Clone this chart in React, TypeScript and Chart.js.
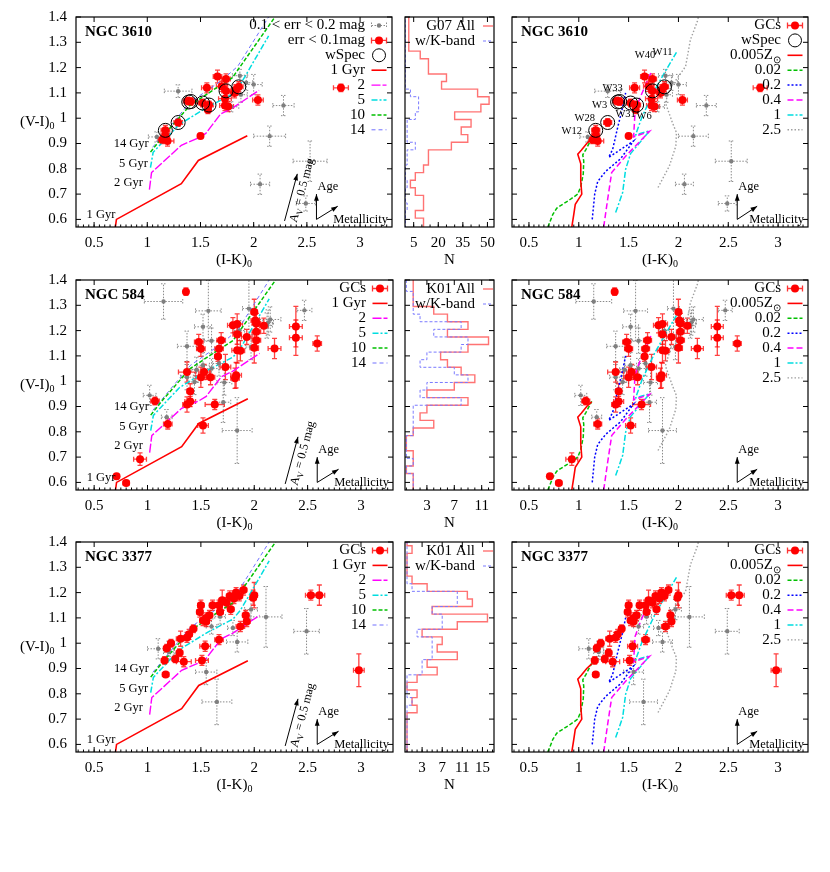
import React, { useEffect, useRef } from "react";
import { Chart, registerables } from "chart.js";

Chart.register(...registerables);

const SERIF = '"Liberation Serif", "Times New Roman", Times, serif';

// ---------------- data ----------------
type P4 = [number, number, number, number]; // x, y, xerr, yerr
type P2 = [number, number];

const colourTicks = [0.5, 1, 1.5, 2, 2.5, 3];
const viTicks = [0.6, 0.7, 0.8, 0.9, 1, 1.1, 1.2, 1.3, 1.4];
const nTicks3610 = [5, 20, 35, 50];
const nTicks584 = [3, 7, 11];
const nTicks3377 = [3, 7, 11, 15];

// histogram bins in (V-I)0: lower edge of first bin and width
const binLow = 0.545;
const binW = 0.03;
const g07All = [11, 11, 6, 11, 11, 6, 3, 6, 11, 14, 14, 28, 38, 34, 40, 30, 46, 51, 44, 22, 25, 14, 14, 9, 2, 2, 2, 2, 2];
const g07K = [0, 0, 0, 1, 0, 0, 1, 0, 0, 1, 1, 6, 1, 1, 1, 6, 8, 8, 3, 0, 0, 0, 0, 0, 0, 0, 0, 0, 0];
const k584All = [1, 1, 1, 0, 1, 1, 0, 0, 1, 4, 2, 3, 9, 3, 7, 10, 8, 6, 5, 9, 12, 6, 9, 6, 4, 1, 1, 1, 1];
const k584K = [1, 1, 1, 0, 1, 0, 0, 0, 1, 1, 1, 1, 8, 2, 3, 9, 7, 2, 3, 8, 9, 4, 8, 2, 1, 1, 1, 0, 0];
const k3377All = [0, 0, 0, 0, 0, 0, 2, 1, 2, 0, 2, 6, 4, 10, 6, 7, 3, 10, 16, 5, 13, 12, 4, 1, 0, 0, 0, 1, 0];
const k3377K = [0, 0, 0, 0, 0, 0, 0, 1, 0, 0, 0, 3, 3, 5, 5, 5, 2, 7, 7, 5, 10, 10, 1, 0, 0, 0, 0, 0, 0];

// NGC 3610
const n3610Red: P4[] = [
  [1.66, 1.165, 0.04, 0.025], [1.74, 1.155, 0.04, 0.02], [1.56, 1.12, 0.05, 0.02],
  [1.70, 1.126, 0.05, 0.02], [1.74, 1.108, 0.04, 0.02], [1.86, 1.124, 0.04, 0.02],
  [1.82, 1.100, 0.04, 0.02], [1.83, 1.112, 0.04, 0.02], [1.41, 1.066, 0.05, 0.015],
  [1.38, 1.068, 0.04, 0.015], [1.52, 1.060, 0.04, 0.015], [1.58, 1.052, 0.04, 0.015],
  [1.57, 1.033, 0.03, 0.015], [1.73, 1.077, 0.06, 0.025], [1.73, 1.050, 0.05, 0.02],
  [1.76, 1.046, 0.05, 0.02], [2.04, 1.072, 0.05, 0.02], [1.29, 0.983, 0.04, 0.015],
  [1.17, 0.952, 0.04, 0.02], [1.17, 0.932, 0.04, 0.015], [1.14, 0.915, 0.04, 0.015],
  [1.19, 0.910, 0.06, 0.02], [1.50, 0.930, 0.02, 0.01], [2.82, 1.120, 0.07, 0.015],
];
const n3610Faint: P4[] = [
  [1.29, 1.107, 0.13, 0.025], [1.87, 1.168, 0.07, 0.025], [1.93, 1.140, 0.06, 0.03],
  [2.00, 1.133, 0.08, 0.04], [1.88, 1.093, 0.06, 0.03], [1.79, 1.045, 0.07, 0.02],
  [2.28, 1.050, 0.10, 0.04], [2.15, 0.929, 0.15, 0.04], [2.53, 0.830, 0.16, 0.08],
  [2.06, 0.739, 0.09, 0.04], [2.49, 0.663, 0.09, 0.03], [1.09, 0.926, 0.08, 0.02],
];
const n3610Spec: P2[] = [
  [1.86, 1.124], [1.74, 1.108], [1.41, 1.066], [1.39, 1.064],
  [1.52, 1.060], [1.58, 1.052], [1.29, 0.983], [1.17, 0.952],
];
const n3610SpecNames = ["W11", "W40", "W33", "W3", "W31", "W6", "W28", "W12"];
const n3610NamePos: P2[] = [
  [1.84, 1.262], [1.665, 1.25], [1.34, 1.119], [1.21, 1.05],
  [1.47, 1.014], [1.655, 1.007], [1.06, 1.0], [0.93, 0.948],
];

// NGC 584
const n584Red: P4[] = [
  [1.36, 1.354, 0.02, 0.015], [0.71, 0.624, 0.02, 0.01], [0.80, 0.598, 0.03, 0.01],
  [0.93, 0.692, 0.06, 0.025], [1.19, 0.831, 0.04, 0.02], [1.52, 0.825, 0.05, 0.03],
  [1.07, 0.922, 0.04, 0.015], [1.37, 0.908, 0.04, 0.03], [1.40, 0.920, 0.05, 0.02],
  [1.40, 0.960, 0.03, 0.03], [1.63, 0.908, 0.09, 0.02], [1.37, 1.036, 0.08, 0.04],
  [1.50, 1.016, 0.05, 0.04], [1.53, 1.036, 0.05, 0.03], [1.59, 1.016, 0.04, 0.03],
  [1.73, 1.056, 0.05, 0.05], [1.66, 1.098, 0.03, 0.02], [1.48, 1.155, 0.04, 0.03],
  [1.50, 1.128, 0.04, 0.03], [1.67, 1.128, 0.04, 0.03], [1.69, 1.162, 0.04, 0.03],
  [1.80, 1.221, 0.05, 0.03], [1.84, 1.226, 0.05, 0.04], [1.84, 1.186, 0.04, 0.04],
  [1.84, 1.122, 0.05, 0.05], [1.83, 1.024, 0.05, 0.05], [1.82, 1.012, 0.04, 0.04],
  [1.87, 1.120, 0.04, 0.04], [1.93, 1.175, 0.05, 0.03], [2.00, 1.274, 0.03, 0.05],
  [2.01, 1.240, 0.04, 0.04], [2.02, 1.228, 0.04, 0.04], [2.02, 1.195, 0.04, 0.04],
  [2.02, 1.162, 0.04, 0.04], [2.00, 1.132, 0.04, 0.06], [2.09, 1.219, 0.04, 0.03],
  [2.19, 1.129, 0.06, 0.04], [2.39, 1.216, 0.06, 0.08], [2.39, 1.172, 0.06, 0.07],
  [2.59, 1.149, 0.04, 0.03],
];
const n584Faint: P4[] = [
  [1.15, 1.315, 0.18, 0.07], [1.57, 1.278, 0.12, 0.12], [1.52, 1.215, 0.08, 0.05],
  [1.37, 1.138, 0.09, 0.06], [1.60, 1.160, 0.07, 0.05], [1.95, 1.287, 0.06, 0.12],
  [1.86, 1.200, 0.05, 0.04], [2.15, 1.244, 0.10, 0.05], [2.13, 1.232, 0.05, 0.05],
  [2.47, 1.280, 0.07, 0.04], [1.02, 0.944, 0.06, 0.04], [1.18, 0.858, 0.05, 0.03],
  [1.84, 0.805, 0.14, 0.13], [1.72, 0.995, 0.07, 0.05], [1.71, 0.917, 0.07, 0.08],
  [1.60, 1.050, 0.07, 0.04], [1.44, 0.997, 0.06, 0.05], [1.46, 1.045, 0.05, 0.05],
  [1.52, 1.063, 0.06, 0.05], [1.37, 1.016, 0.06, 0.05], [1.67, 1.070, 0.06, 0.05],
  [1.97, 1.135, 0.05, 0.05], [2.12, 1.220, 0.05, 0.05],
];

// NGC 3377
const n3377Red: P4[] = [
  [2.53, 1.190, 0.05, 0.02], [2.61, 1.190, 0.05, 0.04], [2.98, 0.893, 0.05, 0.065],
  [1.17, 0.876, 0.03, 0.01], [1.34, 0.927, 0.07, 0.02], [1.51, 0.932, 0.06, 0.02],
  [1.26, 0.938, 0.03, 0.015], [1.16, 0.932, 0.03, 0.015], [1.30, 0.962, 0.03, 0.015],
  [1.18, 0.980, 0.03, 0.015], [1.22, 1.000, 0.03, 0.015], [1.31, 1.018, 0.04, 0.03],
  [1.37, 1.023, 0.03, 0.02], [1.39, 1.035, 0.03, 0.02], [1.43, 1.057, 0.03, 0.015],
  [1.54, 0.988, 0.05, 0.02], [1.67, 1.014, 0.04, 0.02], [1.87, 1.066, 0.04, 0.02],
  [1.93, 1.086, 0.03, 0.02], [1.92, 1.110, 0.03, 0.02], [1.49, 1.123, 0.03, 0.02],
  [1.50, 1.150, 0.03, 0.02], [1.61, 1.150, 0.03, 0.02], [1.55, 1.086, 0.03, 0.02],
  [1.55, 1.100, 0.03, 0.02], [1.58, 1.110, 0.03, 0.02], [1.68, 1.123, 0.03, 0.02],
  [1.67, 1.150, 0.03, 0.02], [1.70, 1.170, 0.03, 0.04], [1.74, 1.160, 0.03, 0.02],
  [1.78, 1.134, 0.03, 0.02], [1.81, 1.177, 0.03, 0.02], [1.83, 1.200, 0.03, 0.02],
  [1.86, 1.187, 0.03, 0.02], [1.90, 1.210, 0.03, 0.02], [2.00, 1.190, 0.03, 0.05],
  [1.99, 1.180, 0.03, 0.03], [1.77, 1.187, 0.03, 0.02], [1.52, 1.090, 0.03, 0.02],
];
const n3377Faint: P4[] = [
  [2.11, 1.104, 0.15, 0.12], [2.49, 1.047, 0.12, 0.09], [1.65, 0.768, 0.14, 0.09],
  [1.55, 0.886, 0.10, 0.05], [1.84, 1.005, 0.10, 0.04], [1.97, 1.133, 0.06, 0.04],
  [1.80, 1.060, 0.05, 0.03], [1.68, 1.105, 0.05, 0.03], [1.60, 1.066, 0.05, 0.03],
  [1.10, 0.978, 0.10, 0.04], [1.20, 0.965, 0.05, 0.03], [1.20, 0.978, 0.05, 0.03],
];

// SSP isochrones (ages) for the left panels
const age1Gyr: P2[] = [[0.70, 0.57], [0.71, 0.60], [1.32, 0.741], [1.48, 0.833], [1.94, 0.931]];
const age2Gyr: P2[] = [[1.02, 0.718], [1.04, 0.785], [1.32, 0.893], [1.48, 0.922], [1.55, 0.94], [1.69, 1.017], [1.80, 1.04], [2.05, 1.11]];
const age5Gyr: P2[] = [[1.03, 0.805], [1.055, 0.865], [1.30, 0.975], [1.57, 1.045], [1.80, 1.095], [1.87, 1.13], [2.14, 1.325]];
const age10Gyr: P2[] = [[1.03, 0.866], [1.15, 0.93], [1.40, 1.05], [1.65, 1.12], [1.80, 1.16], [2.0, 1.28], [2.2, 1.40]];
const age14Gyr: P2[] = [[1.05, 0.885], [1.40, 1.062], [1.70, 1.15], [1.85, 1.205], [2.14, 1.40]];

// metallicity tracks for the right panels
const zTrack005: P2[] = [[0.93, 0.57], [0.95, 0.62], [0.965, 0.66], [1.03, 0.70], [1.02, 0.75], [1.02, 0.82], [0.99, 0.858], [1.025, 0.873], [1.08, 0.90], [1.13, 0.918]];
const zTrack002: P2[] = [[0.69, 0.57], [0.74, 0.62], [0.78, 0.645], [0.90, 0.675], [0.99, 0.70], [1.02, 0.73], [1.045, 0.78], [1.05, 0.83], [1.04, 0.855], [1.07, 0.875], [1.13, 0.92]];
const zTrack02: P2[] = [[1.135, 0.60], [1.16, 0.70], [1.19, 0.75], [1.27, 0.79], [1.42, 0.84], [1.55, 0.91], [1.30, 0.845], [1.34, 0.877], [1.39, 0.963], [1.44, 1.043], [1.47, 1.10]];
const zTrack04: P2[] = [[1.25, 0.57], [1.29, 0.68], [1.33, 0.785], [1.47, 0.85], [1.71, 0.948], [1.55, 0.926], [1.565, 1.027], [1.62, 1.086], [1.73, 1.185]];
const zTrack1: P2[] = [[1.37, 0.627], [1.44, 0.706], [1.47, 0.798], [1.52, 0.86], [1.71, 0.95], [1.57, 0.934], [1.635, 1.006], [1.76, 1.11], [1.89, 1.2], [1.98, 1.26]];
const zTrack25: P2[] = [[1.795, 0.726], [1.909, 0.811], [1.974, 0.89], [1.98, 0.943], [1.94, 0.982], [1.869, 1.061], [1.909, 1.113], [2.072, 1.205], [2.12, 1.31], [2.19, 1.383], [2.2, 1.40]];

// ---------------- styles / layout ----------------
const RED = "#ff0000";
const AGE_LINES = [
  { pts: age1Gyr, label: "1 Gyr", color: RED, dash: [], width: 1.6 },
  { pts: age2Gyr, label: "2", color: "#ff00ff", dash: [9, 2], width: 1.4 },
  { pts: age5Gyr, label: "5", color: "#00dde0", dash: [6, 2, 2, 2], width: 1.5 },
  { pts: age10Gyr, label: "10", color: "#00c000", dash: [4, 2], width: 1.5 },
  { pts: age14Gyr, label: "14", color: "#7070ff", dash: [4, 3], width: 1 },
];
const Z_LINES = [
  { pts: zTrack005, label: "0.005Z", sub: "\u2299", color: RED, dash: [], width: 1.6 },
  { pts: zTrack002, label: "0.02", color: "#00c000", dash: [4, 2], width: 1.5 },
  { pts: zTrack02, label: "0.2", color: "#0000ff", dash: [2, 2], width: 1.5 },
  { pts: zTrack04, label: "0.4", color: "#ff00ff", dash: [6, 3], width: 1.5 },
  { pts: zTrack1, label: "1", color: "#00dde0", dash: [6, 2, 2, 2], width: 1.5 },
  { pts: zTrack25, label: "2.5", color: "#a0a0a0", dash: [1.5, 2], width: 1.4 },
];

const ROW_TOP = [17, 280, 542];
const PLOT_H = 210;
const PAD_TOP = 12;
const AXIS_H = 46;
const COLS: any = {
  left: { plotL: 76, plotR: 393, canL: 0, canW: 400 },
  mid: { plotL: 405, plotR: 494, canL: 398, canW: 100 },
  right: { plotL: 505, plotR: 808, canL: 498, canW: 318 },
};

function fmt(v: number) {
  return String(Math.round(v * 100) / 100);
}

function subText(ctx: any, main: string, sub: string, x: number, y: number, align: string, size: number, bold = false) {
  const f1 = `${bold ? "bold " : ""}${size}px ${SERIF}`;
  const f2 = `${Math.round(size * 0.68)}px ${SERIF}`;
  ctx.font = f1;
  const w1 = ctx.measureText(main).width;
  ctx.font = f2;
  const w2 = sub ? ctx.measureText(sub).width : 0;
  const tot = w1 + w2;
  const x0 = align === "center" ? x - tot / 2 : align === "right" ? x - tot : x;
  ctx.textAlign = "left";
  ctx.textBaseline = "middle";
  ctx.fillStyle = "#000";
  ctx.font = f1;
  ctx.fillText(main, x0, y);
  if (sub) {
    ctx.font = f2;
    ctx.fillText(sub, x0 + w1, y + size * 0.32);
  }
}

function arrowLine(ctx: any, x1: number, y1: number, x2: number, y2: number) {
  ctx.beginPath();
  ctx.moveTo(x1, y1);
  ctx.lineTo(x2, y2);
  ctx.stroke();
  const a = Math.atan2(y2 - y1, x2 - x1);
  const h = 7, w = 0.35;
  ctx.beginPath();
  ctx.moveTo(x2, y2);
  ctx.lineTo(x2 - h * Math.cos(a - w), y2 - h * Math.sin(a - w));
  ctx.lineTo(x2 - h * Math.cos(a + w), y2 - h * Math.sin(a + w));
  ctx.closePath();
  ctx.fill();
}

function errSample(ctx: any, cx: number, cy: number, half: number, kind: string) {
  ctx.save();
  if (kind === "gray") {
    ctx.strokeStyle = "#8a8a8a";
    ctx.setLineDash([1.5, 1.5]);
    ctx.lineWidth = 1;
  } else {
    ctx.strokeStyle = "rgba(255,0,0,0.8)";
    ctx.lineWidth = 1.3;
  }
  ctx.beginPath();
  ctx.moveTo(cx - half, cy); ctx.lineTo(cx + half, cy);
  ctx.moveTo(cx - half, cy - 3); ctx.lineTo(cx - half, cy + 3);
  ctx.moveTo(cx + half, cy - 3); ctx.lineTo(cx + half, cy + 3);
  ctx.stroke();
  ctx.setLineDash([]);
  ctx.fillStyle = kind === "gray" ? "#7f7f7f" : RED;
  ctx.beginPath();
  ctx.arc(cx, cy, kind === "gray" ? 2.2 : 4, 0, Math.PI * 2);
  ctx.fill();
  ctx.restore();
}

function makeDeco(spec: any) {
  return {
    id: "deco",
    beforeDatasetsDraw(chart: any) {
      const ctx = chart.ctx;
      const xs = chart.scales.x, ys = chart.scales.y, a = chart.chartArea;
      ctx.save();
      ctx.beginPath();
      ctx.rect(a.left, a.top, a.right - a.left, a.bottom - a.top);
      ctx.clip();
      const sets = chart.data.datasets.filter((d: any) => d.errStyle);
      sets.sort((p: any, q: any) => (p.errStyle === "gray" ? -1 : 1) - (q.errStyle === "gray" ? -1 : 1));
      for (const ds of sets) {
        if (ds.errStyle === "gray") {
          ctx.strokeStyle = "#8a8a8a";
          ctx.lineWidth = 1;
          ctx.setLineDash([1.5, 1.5]);
        } else {
          ctx.strokeStyle = "rgba(255,0,0,0.75)";
          ctx.lineWidth = 1.3;
          ctx.setLineDash([]);
        }
        for (const p of ds.data) {
          const px = xs.getPixelForValue(p.x), py = ys.getPixelForValue(p.y);
          const x1 = xs.getPixelForValue(p.x - p.ex), x2 = xs.getPixelForValue(p.x + p.ex);
          const y1 = ys.getPixelForValue(p.y - p.ey), y2 = ys.getPixelForValue(p.y + p.ey);
          ctx.beginPath();
          ctx.moveTo(x1, py); ctx.lineTo(x2, py);
          ctx.moveTo(x1, py - 2.5); ctx.lineTo(x1, py + 2.5);
          ctx.moveTo(x2, py - 2.5); ctx.lineTo(x2, py + 2.5);
          ctx.moveTo(px, y1); ctx.lineTo(px, y2);
          ctx.moveTo(px - 2.5, y1); ctx.lineTo(px + 2.5, y1);
          ctx.moveTo(px - 2.5, y2); ctx.lineTo(px + 2.5, y2);
          ctx.stroke();
        }
      }
      ctx.restore();
    },
    afterDraw(chart: any) {
      const ctx = chart.ctx;
      const xs = chart.scales.x, ys = chart.scales.y, a = chart.chartArea;
      const X = (v: number) => xs.getPixelForValue(v);
      const Y = (v: number) => ys.getPixelForValue(v);
      ctx.save();
      // frame
      ctx.strokeStyle = "#000";
      ctx.lineWidth = 1.2;
      ctx.setLineDash([]);
      ctx.strokeRect(a.left, a.top, a.right - a.left, a.bottom - a.top);
      // inward ticks
      ctx.lineWidth = 1;
      ctx.beginPath();
      for (const v of spec.xMajor) {
        const p = X(v);
        ctx.moveTo(p, a.bottom); ctx.lineTo(p, a.bottom - 5);
        ctx.moveTo(p, a.top); ctx.lineTo(p, a.top + 5);
      }
      for (let v = spec.xMinor[0]; v <= spec.xMinor[1] + 1e-9; v += spec.xMinor[2]) {
        const p = X(v);
        if (p > a.left + 1 && p < a.right - 1) {
          ctx.moveTo(p, a.bottom); ctx.lineTo(p, a.bottom - 2.5);
        }
      }
      for (const v of viTicks) {
        const p = Y(v);
        ctx.moveTo(a.left, p); ctx.lineTo(a.left + 5, p);
        ctx.moveTo(a.right, p); ctx.lineTo(a.right - 5, p);
      }
      ctx.stroke();

      // panel title
      if (spec.title) {
        ctx.fillStyle = "#000";
        ctx.font = `bold 15px ${SERIF}`;
        ctx.textAlign = "left";
        ctx.textBaseline = "middle";
        ctx.fillText(spec.title, a.left + 9, a.top + 15);
      }
      // axis titles
      if (spec.xTitle) subText(ctx, spec.xTitle[0], spec.xTitle[1], (a.left + a.right) / 2, a.bottom + 33, "center", 15);
      if (spec.yTitle) subText(ctx, "(V-I)", "0", 20, (a.top + a.bottom) / 2, "left", 15);

      // legend
      if (spec.legend) {
        const L = spec.legend;
        L.items.forEach((it: any, i: number) => {
          const y = a.top + L.y0 + i * L.dy;
          subText(ctx, it.text, it.sub || "", a.right - L.textOff, y, "right", 15);
          const cx = a.right - L.symOff;
          if (it.kind === "gray" || it.kind === "red") errSample(ctx, cx, y, L.half, it.kind);
          else if (it.kind === "circle") {
            ctx.strokeStyle = "#000"; ctx.lineWidth = 1; ctx.setLineDash([]);
            ctx.beginPath(); ctx.arc(cx, y, 6.5, 0, Math.PI * 2); ctx.stroke();
          } else {
            ctx.strokeStyle = it.color; ctx.lineWidth = it.width || 1.5; ctx.setLineDash(it.dash || []);
            ctx.beginPath(); ctx.moveTo(cx - L.half, y); ctx.lineTo(cx + L.half, y); ctx.stroke();
            ctx.setLineDash([]);
          }
        });
      }

      // free texts
      if (spec.texts) {
        for (const t of spec.texts) {
          ctx.fillStyle = "#000";
          ctx.font = `${t.size}px ${SERIF}`;
          ctx.textAlign = t.align;
          ctx.textBaseline = "middle";
          ctx.fillText(t.text, X(t.x), Y(t.y));
        }
      }

      // arrows
      if (spec.arrows) {
        ctx.strokeStyle = "#000"; ctx.fillStyle = "#000"; ctx.lineWidth = 1; ctx.setLineDash([]);
        const ax = 2.59, ay = 0.60;
        arrowLine(ctx, X(ax), Y(ay), X(ax), Y(0.70));
        arrowLine(ctx, X(ax), Y(ay), X(2.79), Y(0.652));
        ctx.font = `12.5px ${SERIF}`;
        ctx.textBaseline = "middle";
        ctx.textAlign = "left";
        ctx.fillText("Age", X(2.60), Y(0.73));
        ctx.textAlign = "right";
        ctx.fillText("Metallicity", a.right - 4, Y(0.6));
        if (spec.av) {
          const x1 = X(2.29), y1 = Y(0.594), x2 = X(2.41), y2 = Y(0.78);
          arrowLine(ctx, x1, y1, x2, y2);
          const ang = Math.atan2(y2 - y1, x2 - x1);
          ctx.save();
          ctx.translate(X(2.455), Y(0.715));
          ctx.rotate(ang);
          ctx.font = `12px ${SERIF}`;
          const wA = ctx.measureText("A").width;
          ctx.font = `8.5px ${SERIF}`;
          const wV = ctx.measureText("V").width;
          ctx.font = `12px ${SERIF}`;
          const wR = ctx.measureText(" = 0.5 mag").width;
          const tot = wA + wV + wR;
          const x0 = -tot / 2;
          ctx.textAlign = "left";
          ctx.fillText("A", x0, 0);
          ctx.font = `8.5px ${SERIF}`;
          ctx.fillText("V", x0 + wA, 4);
          ctx.font = `12px ${SERIF}`;
          ctx.fillText(" = 0.5 mag", x0 + wA + wV, 0);
          ctx.restore();
        }
      }
      ctx.restore();
    },
  };
}

function noPad(s: any) {
  s.paddingTop = 0;
  s.paddingBottom = 0;
  s.paddingLeft = 0;
  s.paddingRight = 0;
}

function xAxis(min: number, max: number, ticks: number[]) {
  return {
    type: "linear",
    position: "bottom",
    min,
    max,
    grid: { display: false, drawTicks: false },
    border: { display: false },
    ticks: {
      font: { family: SERIF, size: 15 },
      color: "#000",
      padding: 7,
      maxRotation: 0,
      autoSkip: false,
      callback: (v: any) => fmt(Number(v)),
    },
    afterBuildTicks: (s: any) => {
      s.ticks = ticks.map((v) => ({ value: v }));
    },
    afterFit: (s: any) => {
      s.height = AXIS_H;
      noPad(s);
    },
  };
}

function yAxis(show: boolean, width: number) {
  return {
    type: "linear",
    position: "left",
    min: 0.57,
    max: 1.4,
    display: show,
    grid: { display: false, drawTicks: false },
    border: { display: false },
    ticks: {
      font: { family: SERIF, size: 15 },
      color: "#000",
      padding: 9,
      autoSkip: false,
      callback: (v: any) => fmt(Number(v)),
    },
    afterBuildTicks: (s: any) => {
      s.ticks = viTicks.map((v) => ({ value: v }));
    },
    afterFit: (s: any) => {
      s.width = width;
      noPad(s);
    },
  };
}

function pts4(arr: P4[]) {
  return arr.map(([x, y, ex, ey]) => ({ x, y, ex, ey }));
}
function pts2(arr: P2[]) {
  return arr.map(([x, y]) => ({ x, y }));
}

const GALAXIES = [
  { name: "NGC 3610", red: n3610Red, faint: n3610Faint, spec: n3610Spec, hAll: g07All, hK: g07K, hAllLabel: "G07 All", nTicks: nTicks3610, nMin: -0.3, nMax: 54, nMinorStep: 5 },
  { name: "NGC 584", red: n584Red, faint: n584Faint, spec: null, hAll: k584All, hK: k584K, hAllLabel: "K01 All", nTicks: nTicks584, nMin: -0.2, nMax: 12.8, nMinorStep: 1 },
  { name: "NGC 3377", red: n3377Red, faint: n3377Faint, spec: null, hAll: k3377All, hK: k3377K, hAllLabel: "K01 All", nTicks: nTicks3377, nMin: -0.4, nMax: 17.3, nMinorStep: 1 },
];

function baseOptions(col: any, scales: any) {
  return {
    responsive: false,
    maintainAspectRatio: false,
    animation: false,
    devicePixelRatio: 1,
    events: [],
    layout: {
      padding: {
        top: PAD_TOP,
        bottom: 0,
        left: col === COLS.left ? 0 : col.plotL - col.canL,
        right: col.canL + col.canW - col.plotR,
      },
    },
    plugins: { legend: { display: false }, tooltip: { enabled: false }, title: { display: false } },
    scales,
  };
}

function scatterConfig(side: "left" | "right", gi: number) {
  const g: any = GALAXIES[gi];
  const col = COLS[side];
  const datasets: any[] = [];
  if (g.spec) {
    datasets.push({ data: pts2(g.spec), pointRadius: 7, pointBorderColor: "#000", pointBackgroundColor: "rgba(0,0,0,0)", pointBorderWidth: 1 });
  }
  datasets.push({ data: pts4(g.red), errStyle: "red", pointRadius: 4, pointBackgroundColor: RED, pointBorderColor: RED, pointBorderWidth: 0 });
  datasets.push({ data: pts4(g.faint), errStyle: "gray", pointRadius: 2.2, pointBackgroundColor: "#7f7f7f", pointBorderColor: "#7f7f7f", pointBorderWidth: 0 });
  const models = side === "left" ? AGE_LINES : Z_LINES;
  for (const m of models) {
    datasets.push({ data: pts2(m.pts), showLine: true, pointRadius: 0, borderColor: m.color, borderWidth: m.width, borderDash: m.dash, fill: false, tension: 0 });
  }

  const legendItems: any[] = [];
  if (side === "left") {
    if (g.spec) {
      legendItems.push({ text: "0.1 < err < 0.2 mag", kind: "gray" });
      legendItems.push({ text: "err < 0.1mag", kind: "red" });
      legendItems.push({ text: "wSpec", kind: "circle" });
    } else legendItems.push({ text: "GCs", kind: "red" });
    for (const m of AGE_LINES) legendItems.push({ text: m.label, kind: "line", color: m.color, dash: m.dash, width: m.width });
  } else {
    legendItems.push({ text: "GCs", kind: "red" });
    if (g.spec) legendItems.push({ text: "wSpec", kind: "circle" });
    for (const m of Z_LINES) legendItems.push({ text: m.label, sub: (m as any).sub, kind: "line", color: m.color, dash: m.dash, width: m.width });
  }

  const texts: any[] = [];
  if (side === "left") {
    texts.push({ text: "14 Gyr", x: 1.014, y: 0.9, align: "right", size: 12.5 });
    texts.push({ text: "5 Gyr", x: 1.005, y: 0.821, align: "right", size: 12.5 });
    texts.push({ text: "2 Gyr", x: 0.958, y: 0.746, align: "right", size: 12.5 });
    texts.push({ text: "1 Gyr", x: 0.70, y: 0.62, align: "right", size: 12.5 });
  } else if (g.spec) {
    n3610SpecNames.forEach((nm, i) => texts.push({ text: nm, x: n3610NamePos[i][0], y: n3610NamePos[i][1], align: "center", size: 10.5 }));
  }

  const spec = {
    xMajor: colourTicks,
    xMinor: [0.35, 3.25, 0.05],
    title: g.name,
    xTitle: ["(I-K)", "0"],
    yTitle: side === "left",
    legend: { items: legendItems, y0: 8.5, dy: 14.9, textOff: 27, symOff: 13, half: 7.5 },
    texts,
    arrows: true,
    av: side === "left",
  };
  return {
    type: "scatter",
    data: { datasets },
    options: baseOptions(col, { x: xAxis(0.33, 3.3, colourTicks), y: yAxis(side === "left", col.plotL - col.canL) }),
    plugins: [makeDeco(spec)],
  };
}

function histPath(counts: number[]) {
  const out: any[] = [];
  counts.forEach((c, i) => {
    const lo = binLow + i * binW;
    out.push({ x: c, y: lo });
    out.push({ x: c, y: lo + binW });
  });
  return out;
}

function histConfig(gi: number) {
  const g: any = GALAXIES[gi];
  const col = COLS.mid;
  const datasets = [
    { data: histPath(g.hK), showLine: true, pointRadius: 0, borderColor: "#7a7aff", borderWidth: 1, borderDash: [3, 2], fill: false, tension: 0 },
    { data: histPath(g.hAll), showLine: true, pointRadius: 0, borderColor: "rgba(255,90,90,0.85)", borderWidth: 1.4, fill: false, tension: 0 },
  ];
  const spec = {
    xMajor: g.nTicks,
    xMinor: [0, g.nMax, g.nMinorStep],
    xTitle: ["N", ""],
    legend: {
      items: [
        { text: g.hAllLabel, kind: "line", color: "rgba(255,90,90,0.85)", dash: [], width: 1.4 },
        { text: "w/K-band", kind: "line", color: "#7a7aff", dash: [3, 2], width: 1 },
      ],
      y0: 9, dy: 15, textOff: 19, symOff: 6, half: 5,
    },
  };
  return {
    type: "scatter",
    data: { datasets },
    options: baseOptions(col, { x: xAxis(g.nMin, g.nMax, g.nTicks), y: yAxis(false, 0) }),
    plugins: [makeDeco(spec)],
  };
}

function Panel({ left, top, width, height, build }: any) {
  const ref = useRef<HTMLCanvasElement>(null);
  useEffect(() => {
    const chart = new Chart(ref.current as HTMLCanvasElement, build());
    return () => chart.destroy();
  }, []);
  return (
    <canvas
      ref={ref}
      width={width}
      height={height}
      style={{ position: "absolute", left, top, width, height }}
    />
  );
}

export default function App() {
  const panels: any[] = [];
  ROW_TOP.forEach((rt, gi) => {
    const top = rt - PAD_TOP;
    const h = PAD_TOP + PLOT_H + AXIS_H;
    panels.push(<Panel key={`l${gi}`} left={COLS.left.canL} top={top} width={COLS.left.canW} height={h} build={() => scatterConfig("left", gi)} />);
    panels.push(<Panel key={`m${gi}`} left={COLS.mid.canL} top={top} width={COLS.mid.canW} height={h} build={() => histConfig(gi)} />);
    panels.push(<Panel key={`r${gi}`} left={COLS.right.canL} top={top} width={COLS.right.canW} height={h} build={() => scatterConfig("right", gi)} />);
  });
  return (
    <div style={{ position: "absolute", left: 0, top: 0, width: 830, height: 872, background: "#fff" }}>
      {panels}
    </div>
  );
}
